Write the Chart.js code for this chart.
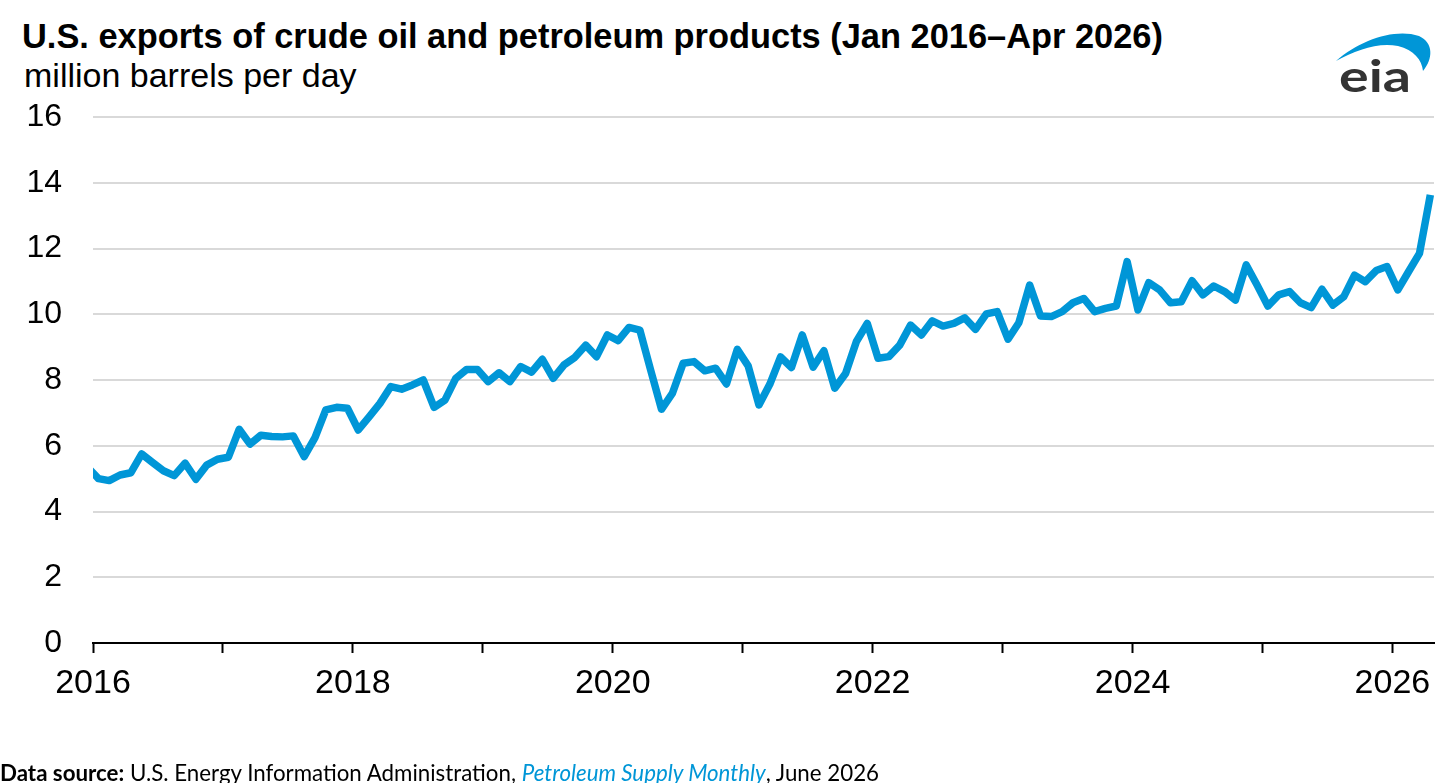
<!DOCTYPE html>
<html>
<head>
<meta charset="utf-8">
<script src="https://cdn.jsdelivr.net/npm/chart.js@4.4.1/dist/chart.umd.min.js"></script>
<style>
  html, body { margin:0; padding:0; background:#fff; width:1446px; height:783px; overflow:hidden; }
  body { position:relative; }
  #title { position:absolute; left:22px; top:19px; font:bold 34.4px "Liberation Sans", Arial, sans-serif; line-height:34px; white-space:nowrap; color:#000; }
  #subtitle { position:absolute; left:24px; top:58px; font:34px "Liberation Sans", Arial, sans-serif; line-height:34px; white-space:nowrap; color:#000; }
  #c { position:absolute; left:0; top:0; }
  #footer { position:absolute; left:0; top:762px; font-family:"Lato", "Open Sans", sans-serif; font-size:22.3px; line-height:22px; white-space:nowrap; color:#000; }
  #footer i { color:#0096D7; }
  #logo { position:absolute; left:1320px; top:25px; }
</style>
</head>
<body>
<div id="title">U.S. exports of crude oil and petroleum products (Jan 2016–Apr 2026)</div>
<div id="subtitle">million barrels per day</div>
<canvas id="c" width="1446" height="783"></canvas>
<svg id="logo" width="120" height="80" viewBox="1320 25 120 80">
  <path d="M1336,61 C1360,40 1395,28 1419,36 C1434,43 1433,59 1423,71 C1422,60 1414,50 1398,46 C1378,42 1356,50 1336,61 Z" fill="#0096D7"/>
  <text x="1339" y="92" font-family="Lato, 'Open Sans', sans-serif" font-weight="bold" font-size="44" fill="#333333" textLength="72" lengthAdjust="spacingAndGlyphs">eia</text>
</svg>
<div id="footer"><b>Data source:</b> U.S. Energy Information Administration, <i>Petroleum Supply Monthly</i>, June 2026</div>

<script>
// ---- data (monthly, Dec 2015 – Apr 2026), million barrels per day ----
const firstMonth = { year: 2015, month: 12 };
const exportsMbd = [
  5.35,
  5.00, 4.94, 5.11, 5.18, 5.75, 5.49, 5.24, 5.09, 5.47, 4.98, 5.41, 5.59,
  5.65, 6.50, 6.05, 6.32, 6.28, 6.27, 6.30, 5.67, 6.25, 7.09, 7.17, 7.14,
  6.48, 6.88, 7.29, 7.80, 7.72, 7.85, 8.00, 7.17, 7.39, 8.05, 8.32, 8.32,
  7.95, 8.22, 7.95, 8.41, 8.24, 8.63, 8.05, 8.46, 8.69, 9.06, 8.71, 9.37,
  9.20, 9.60, 9.52, 8.30, 7.11, 7.59, 8.51, 8.56, 8.28, 8.36, 7.88, 8.93,
  8.43, 7.24, 7.87, 8.70, 8.38, 9.37, 8.39, 8.89, 7.75, 8.20, 9.17, 9.72,
  8.66, 8.71, 9.06, 9.67, 9.37, 9.80, 9.64, 9.72, 9.89, 9.54, 10.01, 10.08,
  9.24, 9.74, 10.89, 9.95, 9.93, 10.08, 10.35, 10.48, 10.08, 10.18, 10.25, 11.60,
  10.13, 10.96, 10.74, 10.35, 10.38, 11.02, 10.59, 10.86, 10.69, 10.43, 11.50, 10.89,
  10.25, 10.59, 10.69, 10.35, 10.20, 10.76, 10.28, 10.53, 11.19, 10.99, 11.33, 11.45,
  10.74, 11.30, 11.85, 13.63
];
const xTickYears = [2016, 2017, 2018, 2019, 2020, 2021, 2022, 2023, 2024, 2025, 2026];
const xLabelYears = [2016, 2018, 2020, 2022, 2024, 2026];
const yTicks = [0, 2, 4, 6, 8, 10, 12, 14, 16];

// month categories as {year, month}
const monthCategories = exportsMbd.map((_, i) => {
  const m0 = (firstMonth.month - 1) + i;
  return { year: firstMonth.year + Math.floor(m0 / 12), month: (m0 % 12) + 1 };
});
// each month plotted at its mid-point on a continuous year axis
const points = monthCategories.map((c, i) => ({ x: c.year + (c.month - 0.5) / 12, y: exportsMbd[i] }));

const FONT = '"Liberation Sans", Arial, sans-serif';

new Chart(document.getElementById('c'), {
  type: 'line',
  data: {
    datasets: [{
      data: points,
      borderColor: '#0096D7',
      borderWidth: 7.5,
      pointRadius: 0,
      tension: 0,
      borderJoinStyle: 'round',
      borderCapStyle: 'butt',
      clip: 0
    }]
  },
  options: {
    responsive: false,
    animation: false,
    layout: { padding: { top: 117, right: 12, bottom: 0, left: 0 } },
    plugins: { legend: { display: false }, tooltip: { enabled: false }, title: { display: false } },
    scales: {
      x: {
        type: 'linear',
        min: 2016,
        max: 2026.32,
        afterBuildTicks: (s) => { s.ticks = xTickYears.map(v => ({ value: v })); },
        afterFit: (s) => { s.height = 140; },
        ticks: {
          autoSkip: false,
          maxRotation: 0,
          padding: 10,
          color: '#000',
          font: { family: FONT, size: 34 },
          callback: (v) => xLabelYears.includes(v) ? String(v) : ''
        },
        grid: { drawOnChartArea: false, drawTicks: true, tickLength: 10, tickWidth: 2, tickColor: '#000' },
        border: { display: true, color: '#000', width: 2 }
      },
      y: {
        min: 0,
        max: 16,
        afterBuildTicks: (s) => { s.ticks = yTicks.map(v => ({ value: v })); },
        afterFit: (s) => { s.width = 93; },
        ticks: {
          padding: 31,
          color: '#000',
          font: { family: FONT, size: 32 },
          callback: (v) => String(v)
        },
        grid: { color: '#D9D9D9', lineWidth: 2, drawTicks: false },
        border: { display: false }
      }
    }
  }
});
</script>
</body>
</html>
